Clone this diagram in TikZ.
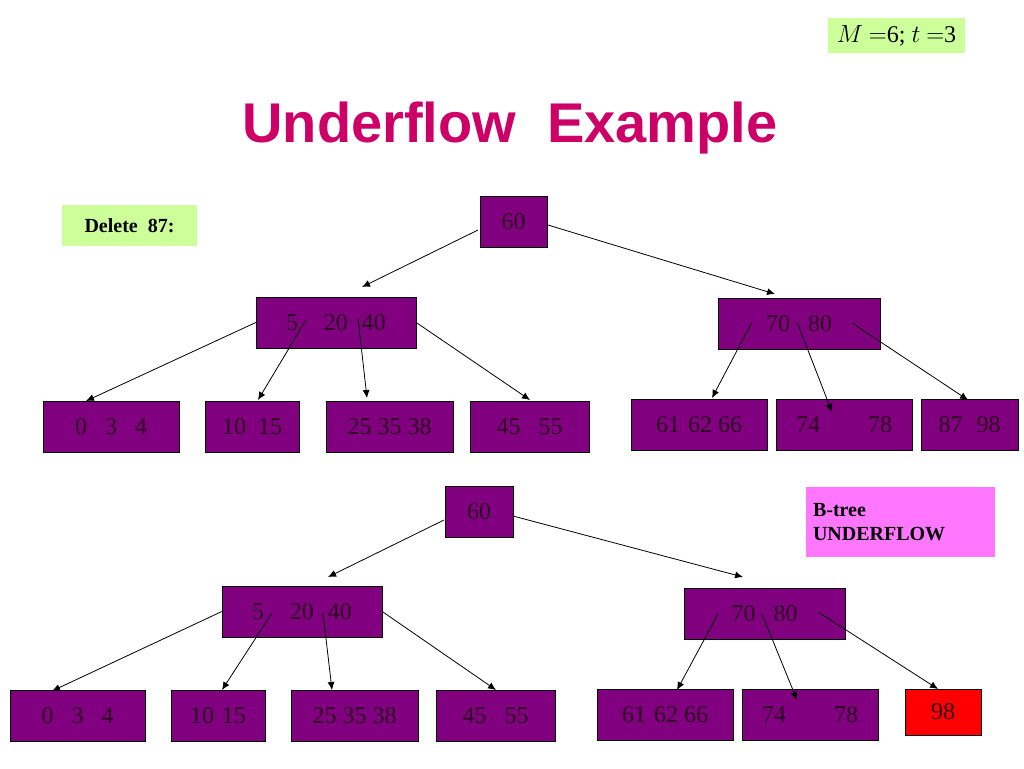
\documentclass[tikz,border=0pt]{standalone}
\usepackage{fontspec}
\setmainfont{Liberation Serif}
\newfontfamily\titlefont{Liberation Sans}
\usetikzlibrary{arrows.meta, positioning}
\definecolor{keyfill}{HTML}{800080}
\definecolor{keytext}{HTML}{2E0020}
\definecolor{notegreen}{HTML}{CCFF99}
\definecolor{notepink}{HTML}{FF77FF}
\definecolor{titlered}{HTML}{CC0066}
\tikzset{
  key/.style={draw, fill=keyfill, text=keytext, inner sep=0pt, minimum height=51pt,
    font=\fontsize{24}{28}\selectfont},
  under/.style={key, fill=red},
  note/.style={fill=#1, inner sep=0pt, font=\bfseries\fontsize{20}{24}\selectfont},
  link/.style={-{Latex[length=8pt,width=7pt]}, line width=0.8pt}
}
\begin{document}
\begin{tikzpicture}[x=1pt, y=-1pt]
  \useasboundingbox (0,0) rectangle (1024,768);
  \node[font=\titlefont\bfseries\fontsize{56}{60}\selectfont, text=titlered] (title) at (510,128) {Underflow\ \ Example};
  \node[note=notegreen, minimum width=137pt, minimum height=35pt] (param) at (896.5,35.5) {\normalfont\fontsize{24}{28}\selectfont$M$ $=$6; $t$ $=$3};
  \node[note=notegreen, minimum width=135pt, minimum height=41pt] (delete) at (129.5,225.5) {Delete\ \ 87:};
  \node[note=notepink, minimum width=189pt, minimum height=70pt, align=left, text width=175pt] (uflow) at (900.5,522) {B-tree\\UNDERFLOW};

  % tree before deletion
  \node[key, minimum width=67pt] (rootA) at (513.5,221.5) {60};
  \node[key, minimum width=160pt] (leftA) at (336,322.5) {5\hspace{26pt}20\hspace{14pt}40};
  \node[key, minimum width=162pt] (rightA) at (799,323.5) {70\hspace{18pt}80};
  \node[key, minimum width=136pt] (a1) at (111,426.5) {0\hspace{18pt}3\hspace{18pt}4};
  \node[key, minimum width=94pt] (a2) at (252,426.5) {10\hspace{12pt}15};
  \node[key, minimum width=127pt] (a3) at (389.5,426.5) {25 35 38};
  \node[key, minimum width=119pt] (a4) at (529.5,426.5) {45\hspace{18pt}55};
  \node[key, minimum width=136pt] (a5) at (699,424.5) {61\hspace{8pt}62 66};
  \node[key, minimum width=136pt] (a6) at (844,424.5) {74\hspace{48pt}78};
  \node[key, minimum width=97pt] (a7) at (969.5,424.5) {87\hspace{14pt}98};

  \coordinate (rootA-l) at (478,230);  \coordinate (rootA-r) at (548,225);
  \coordinate (leftA-1) at (306,320);  \coordinate (leftA-2) at (358,318);
  \coordinate (rightA-0) at (752,322); \coordinate (rightA-1) at (797,322);
  \coordinate (rightA-2) at (852,323);
  \draw[link] (rootA-l) -- (362,287);
  \draw[link] (rootA-r) -- (775,294);
  \draw[link] (leftA.west) -- (86,401);
  \draw[link] (leftA-1) -- (258,400);
  \draw[link] (leftA-2) -- (367,398);
  \draw[link] (leftA.east) -- (530,400);
  \draw[link] (rightA-0) -- (712,398);
  \draw[link] (rightA-1) -- (832,412);
  \draw[link] (rightA-2) -- (968,400);

  % tree after deletion
  \node[key, minimum width=68pt] (rootB) at (479,511.5) {60};
  \node[key, minimum width=160pt] (leftB) at (302,611.5) {5\hspace{26pt}20\hspace{14pt}40};
  \node[key, minimum width=161pt] (rightB) at (764.5,614) {70\hspace{18pt}80};
  \node[key, minimum width=135pt] (b1) at (77.5,715.5) {0\hspace{18pt}3\hspace{18pt}4};
  \node[key, minimum width=94pt] (b2) at (218,715.5) {10\hspace{8pt}15};
  \node[key, minimum width=127pt] (b3) at (354.5,715.5) {25 35 38};
  \node[key, minimum width=119pt] (b4) at (495.5,715.5) {45\hspace{18pt}55};
  \node[key, minimum width=136pt] (b5) at (665,714.5) {61\hspace{8pt}62 66};
  \node[key, minimum width=136pt] (b6) at (810,714.5) {74\hspace{48pt}78};
  \node[under, minimum width=76pt, minimum height=46pt] (b7) at (943,712) {98\hspace{30pt}};

  \coordinate (rootB-l) at (444,520);  \coordinate (rootB-r) at (513,516);
  \coordinate (leftB-1) at (272,613);  \coordinate (leftB-2) at (323,613);
  \coordinate (rightB-0) at (718,614); \coordinate (rightB-1) at (762,614);
  \coordinate (rightB-2) at (818,612);
  \draw[link] (rootB-l) -- (328,577);
  \draw[link] (rootB-r) -- (743,577);
  \draw[link] (leftB.west) -- (52,691);
  \draw[link] (leftB-1) -- (222,690);
  \draw[link] (leftB-2) -- (332,690);
  \draw[link] (leftB.east) -- (496,690);
  \draw[link] (rightB-0) -- (677,690);
  \draw[link] (rightB-1) -- (797,700);
  \draw[link] (rightB-2) -- (938,689);
\end{tikzpicture}
\end{document}
